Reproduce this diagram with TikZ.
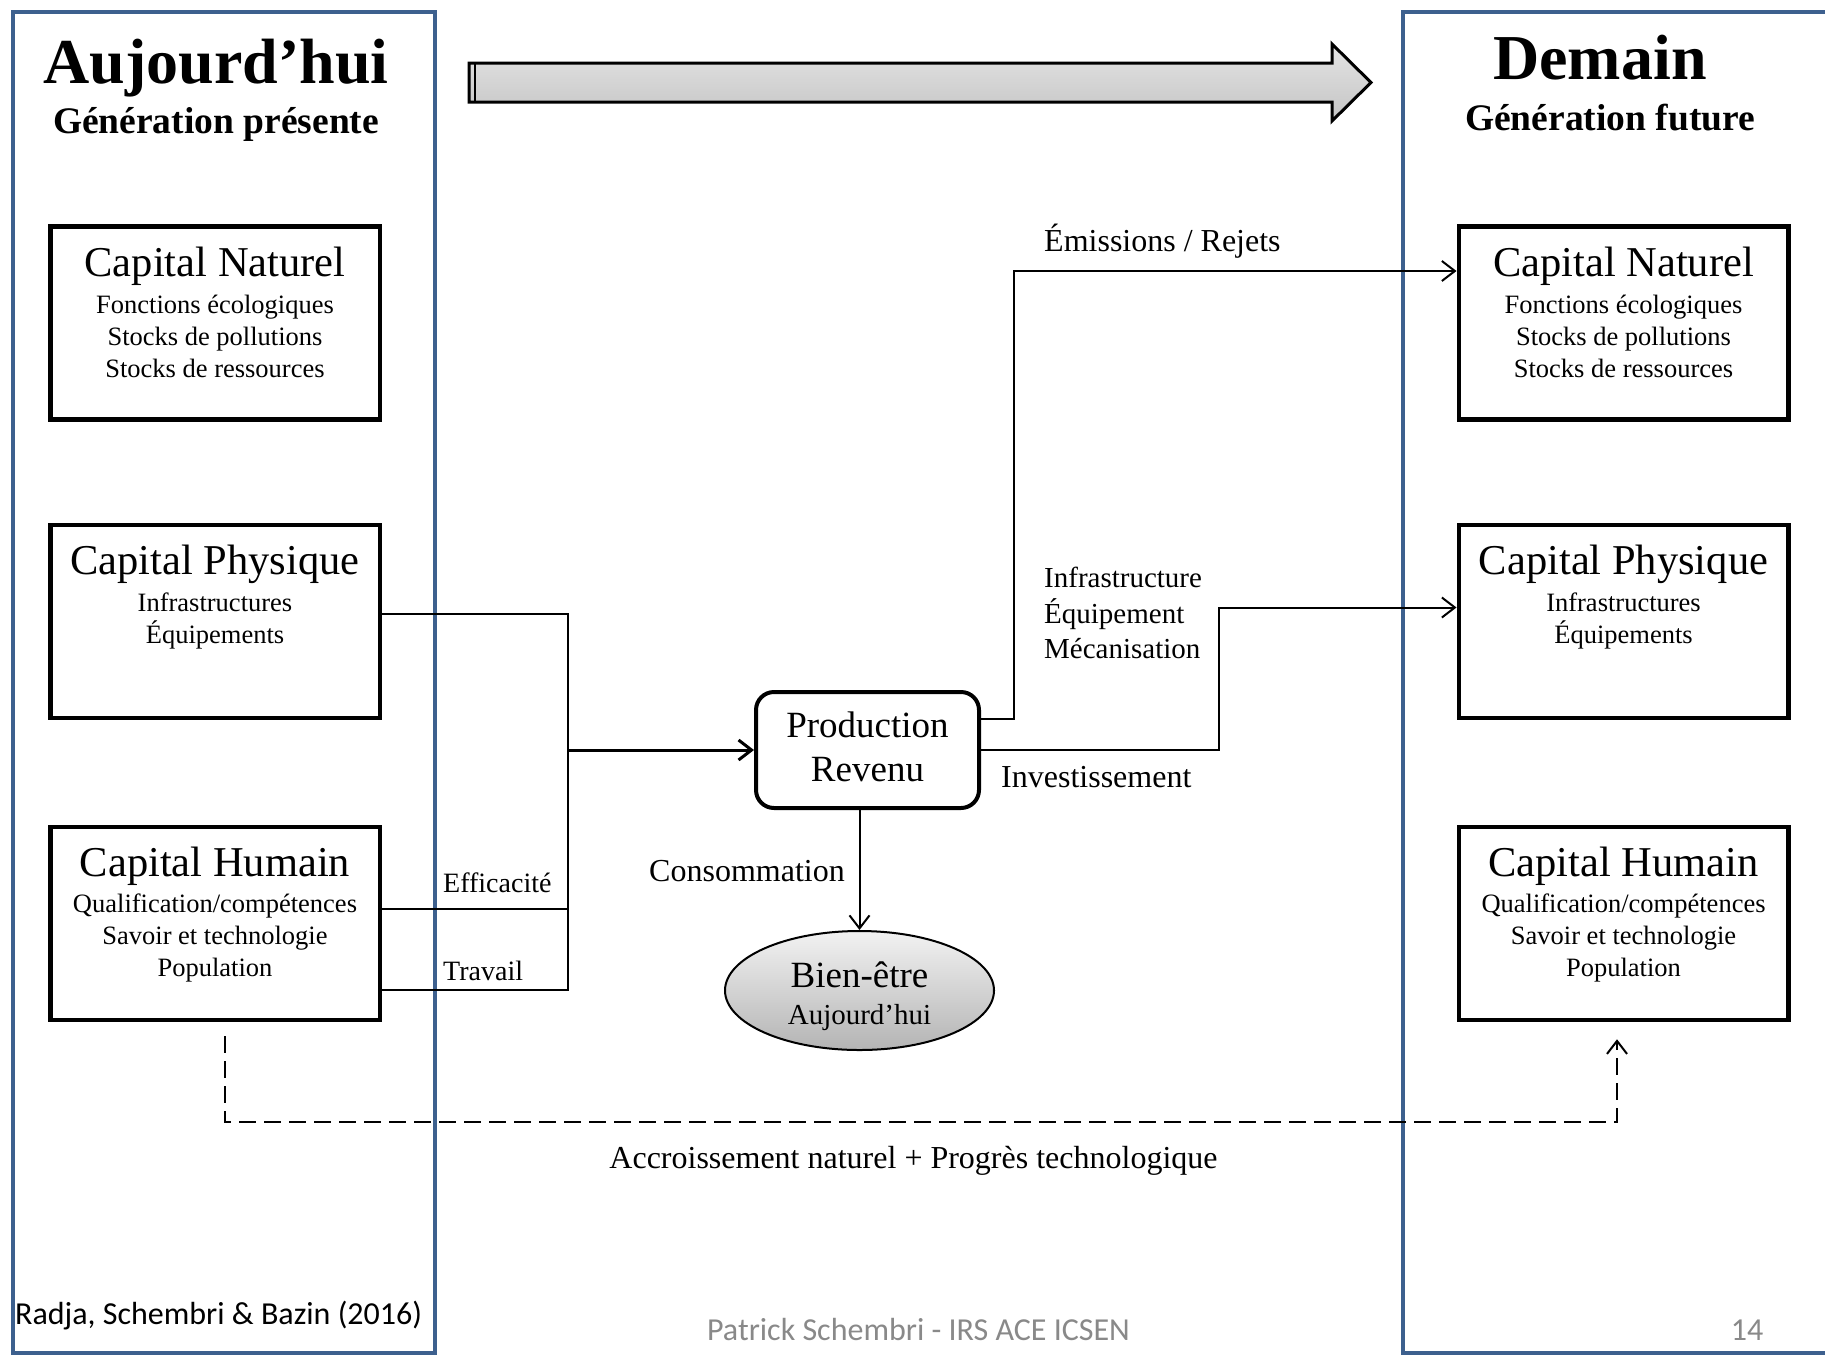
\documentclass[tikz,border=0pt]{standalone}
\usepackage{fontspec}
\setmainfont{Liberation Serif}
\newfontfamily\footfont{Carlito}
\usetikzlibrary{arrows.meta,shapes.geometric}

\definecolor{panelblue}{RGB}{61,96,142}
\definecolor{footgray}{RGB}{137,137,137}
\definecolor{bartop}{RGB}{228,228,228}
\definecolor{barbottom}{RGB}{196,196,196}
\definecolor{elltop}{RGB}{242,242,242}
\definecolor{ellbottom}{RGB}{180,180,180}

\begin{document}
\begin{tikzpicture}[x=1pt,y=-1pt,
  panel/.style={draw=panelblue,line width=4.5pt},
  capbox/.style={draw,line width=4.5pt,minimum width=329.5pt,minimum height=193pt,inner sep=0pt},
  txt/.style={inner sep=0pt,anchor=base},
  ttl/.style={txt,font=\fontsize{64}{70}\selectfont\bfseries},
  sub/.style={txt,font=\fontsize{37.5}{40}\selectfont\bfseries},
  capttl/.style={txt,font=\fontsize{42.5}{46}\selectfont},
  capline/.style={txt,font=\fontsize{26.5}{30}\selectfont},
  lbl/.style={txt,font=\fontsize{32}{36}\selectfont},
  smalllbl/.style={txt,font=\fontsize{29}{32}\selectfont},
  tinylbl/.style={txt,font=\fontsize{28}{32}\selectfont},
  foot/.style={txt,font=\footfont\fontsize{32}{36}\selectfont},
  wire/.style={line width=2pt},
  tip/.style={-{Straight Barb[length=13pt,width=20pt]}},
  dashline/.style={line width=2pt,dash pattern=on 17pt off 8pt},
]
% page
\useasboundingbox (0,0) rectangle (1825,1355);
\fill[white] (0,0) rectangle (1825,1355);

% the two generation panels
\draw[panel] (13,12) rectangle (435,1353);
\draw[panel] (1403,12) rectangle (1840,1353);

% headings
\node[ttl] (hleft) at (216,83) {Aujourd’hui};
\node[sub] (sleft) at (216,133) {Génération présente};
\node[ttl] (hright) at (1600,79) {Demain};
\node[sub] (sright) at (1610,130) {Génération future};

% time arrow
\draw[line width=3pt,top color=bartop,bottom color=barbottom]
  (469,63) -- (1332,63) -- (1332,44) -- (1371,82.5) -- (1332,121) -- (1332,102) -- (469,102) -- cycle;
\draw[line width=2.5pt] (475,63) -- (475,102);

% capital stocks, today
\node[capbox] (lnat) at (215,323) {};
\node[capttl] (lnatt) at (215,276) {Capital Naturel};
\node[capline] (lnat1) at (215,313) {Fonctions écologiques};
\node[capline] (lnat2) at (215,345) {Stocks de pollutions};
\node[capline] (lnat3) at (215,377) {Stocks de ressources};

\node[capbox] (lphy) at (215,621.5) {};
\node[capttl] (lphyt) at (215,574) {Capital Physique};
\node[capline] (lphy1) at (215,611) {Infrastructures};
\node[capline] (lphy2) at (215,643) {Équipements};

\node[capbox] (lhum) at (215,923.5) {};
\node[capttl] (lhumt) at (215,876) {Capital Humain};
\node[capline] (lhum1) at (215,912) {Qualification/compétences};
\node[capline] (lhum2) at (215,944) {Savoir et technologie};
\node[capline] (lhum3) at (215,976) {Population};

% capital stocks, tomorrow
\node[capbox] (rnat) at (1623.5,323) {};
\node[capttl] (rnatt) at (1623.5,276) {Capital Naturel};
\node[capline] (rnat1) at (1623.5,313) {Fonctions écologiques};
\node[capline] (rnat2) at (1623.5,345) {Stocks de pollutions};
\node[capline] (rnat3) at (1623.5,377) {Stocks de ressources};

\node[capbox] (rphy) at (1623.5,621.5) {};
\node[capttl] (rphyt) at (1623.5,574) {Capital Physique};
\node[capline] (rphy1) at (1623.5,611) {Infrastructures};
\node[capline] (rphy2) at (1623.5,643) {Équipements};

\node[capbox] (rhum) at (1623.5,923.5) {};
\node[capttl] (rhumt) at (1623.5,876) {Capital Humain};
\node[capline] (rhum1) at (1623.5,912) {Qualification/compétences};
\node[capline] (rhum2) at (1623.5,944) {Savoir et technologie};
\node[capline] (rhum3) at (1623.5,976) {Population};

% production and well-being
\node[draw,line width=4pt,rounded corners=18pt,minimum width=223pt,minimum height=116pt,inner sep=0pt] (prod) at (867.5,750) {};
\node[txt,font=\fontsize{37}{40}\selectfont] (prodt1) at (867.5,737) {Production};
\node[txt,font=\fontsize{37}{40}\selectfont] (prodt2) at (867.5,781) {Revenu};

\node[ellipse,draw,line width=2pt,top color=elltop,bottom color=ellbottom,minimum width=269pt,minimum height=119pt,inner sep=0pt] (bien) at (859.5,990.5) {};
\node[txt,font=\fontsize{37}{40}\selectfont] (bient1) at (859.5,987) {Bien-être};
\node[txt,font=\fontsize{29}{32}\selectfont] (bient2) at (859.5,1024) {Aujourd’hui};

% inputs to production
\coordinate (merge) at (568,750);
\coordinate (trvturn) at (568,990);
\coordinate (effjoin) at (568,909);
\draw[wire] ([yshift=7.5pt]lphy.east) -| (trvturn) -- ([yshift=-66.5pt]lhum.east);
\draw[wire] ([yshift=14.5pt]lhum.east) -- (effjoin);
\draw[line width=3pt,tip] (merge) -- (prod.west);
\node[tinylbl,anchor=base west] (eff) at (443,892) {Efficacité};
\node[tinylbl,anchor=base west] (trv) at (443,980) {Travail};

% outputs of production
\coordinate (emturn) at (1014,271);
\coordinate (invturn) at (1219,607.5);
\draw[wire,tip] ([yshift=31pt]prod.east) -| (emturn) -- ([yshift=52pt]rnat.west);
\draw[wire,tip] (prod.east) -| (invturn) -- ([yshift=14pt]rphy.west);
\draw[wire,tip] (prod.south -| bien.north) -- (bien.north);

\node[lbl,anchor=base west] (emis) at (1044,251) {Émissions / Rejets};
\node[smalllbl,anchor=base west] (inf1) at (1044,587) {Infrastructure};
\node[smalllbl,anchor=base west] (inf2) at (1044,623) {Équipement};
\node[smalllbl,anchor=base west] (inf3) at (1044,658) {Mécanisation};
\node[lbl,anchor=base west] (inv) at (1001,787) {Investissement};
\node[lbl] (cons) at (747,881) {Consommation};

% human capital carried forward
\coordinate (dl) at (225,1122);
\coordinate (dr) at (1617,1122);
\draw[dashline,tip] ([xshift=10pt,yshift=-14pt]lhum.south) -- (dl) -- (dr) -- ([xshift=-6.5pt,yshift=-17pt]rhum.south);
\node[lbl] (accr) at (913.5,1168) {Accroissement naturel + Progrès technologique};

% footer
\node[foot,anchor=base west] (src) at (15,1324.5) {Radja, Schembri \& Bazin (2016)};
\node[foot,text=footgray] (author) at (918.5,1340.5) {Patrick Schembri - IRS ACE ICSEN};
\node[foot,text=footgray] (pnum) at (1747,1340.5) {14};
\end{tikzpicture}
\end{document}
